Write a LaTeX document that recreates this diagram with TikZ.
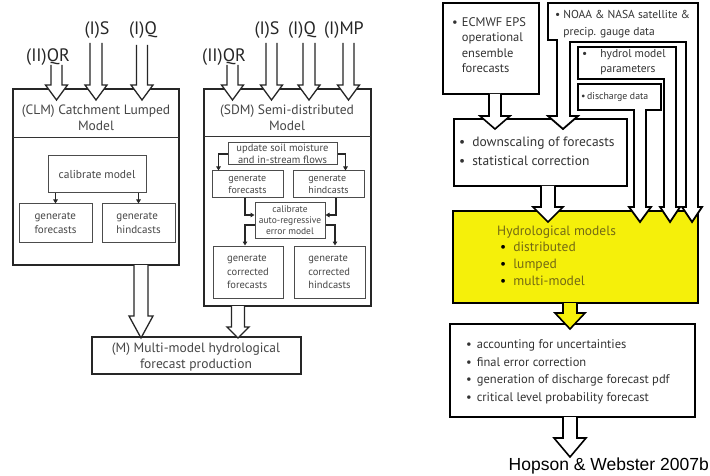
\documentclass[tikz,border=0pt]{standalone}
\usepackage{fontspec}
\setmainfont{PT Sans}
\newfontfamily\arialf{Liberation Sans}
\usetikzlibrary{arrows.meta}
\definecolor{ylw}{RGB}{245,240,10}
\definecolor{olv}{RGB}{115,105,20}
\definecolor{txg}{RGB}{70,70,70}
\newcommand{\blockarr}[7][]{\path[barr,#1] ({#2-#6},#3) -- ({#2-#6},#4) -- ({#2-#7},#4) -- (#2,#5) -- ({#2+#7},#4) -- ({#2+#6},#4) -- ({#2+#6},#3);}
\begin{document}
\begin{tikzpicture}[x=1pt,y=-1pt,
  lbl/.style={inner sep=0pt,text=black!85,font=\fontsize{18}{20}\selectfont},
  ttl/.style={inner sep=0pt,align=center,text=txg,font=\fontsize{13.5}{16}\selectfont},
  obox/.style={draw=black!85,line width=1.4pt,inner sep=0pt},
  ib/.style={draw=black!70,line width=1pt,inner sep=0pt,align=left,text=txg,font=\fontsize{11}{13.5}\selectfont},
  sib/.style={ib,font=\fontsize{10.5}{13}\selectfont},
  sarr/.style={draw=black!85,line width=1.1pt,-{Triangle[length=4pt,width=4.5pt]}},
  barr/.style={fill=white,draw=black!85,line width=1.3pt,line join=miter},
  rarr/.style={draw=black,line width=1.6pt},
  rbx/.style={draw=black,line width=1.8pt,inner sep=0pt},
  rtx/.style={inner sep=0pt,anchor=west,align=left,text=black!80},
  divl/.style={draw=black!80,line width=0.9pt}]
\useasboundingbox[fill=white] (0,0) rectangle (710,476);

% ---------------- Left: CLM ----------------
\node[obox,minimum width=166pt,minimum height=176pt] (clm) at (96,177) {};
\draw[divl] (13,137) -- (179,137);
\node[ttl] (clmt) at (96,118) {(CLM) Catchment Lumped\\Model};
\node[ib,minimum width=98pt,minimum height=37pt,font=\fontsize{11.5}{13.5}\selectfont] (cal) at (97,174.5) {calibrate model};
\node[ib,minimum width=73pt,minimum height=38pt] (gf) at (55.5,223) {generate\\forecasts};
\node[ib,minimum width=73pt,minimum height=38pt] (gh) at (138.5,223) {generate\\hindcasts};
\draw[sarr] (cal.south -| gf.north) -- (gf.north);
\draw[sarr] (cal.south -| gh.north) -- (gh.north);
\node[lbl] (l1) at (48,57) {(II)QR};
\node[lbl] (l2) at (97,30) {(I)S};
\node[lbl] (l3) at (143,30) {(I)Q};
\blockarr{56.5}{65}{85}{100}{5.5}{11}
\blockarr{96}{43}{85}{100}{6}{11}
\blockarr{142}{45}{85}{100}{5.5}{11}

% ---------------- Left: SDM ----------------
\node[obox,minimum width=167pt,minimum height=217pt] (sdm) at (287.5,197.5) {};
\draw[divl] (204,136) -- (371,136);
\node[ttl] (sdmt) at (287,118) {(SDM) Semi-distributed\\Model};
\node[sib,align=center,minimum width=109pt,minimum height=22pt,font=\fontsize{10.5}{11.5}\selectfont] (upd) at (282.5,154) {update soil moisture\\and in-stream flows};
\node[sib,minimum width=71pt,minimum height=27pt,font=\fontsize{10}{12}\selectfont] (gf2) at (247.5,184.5) {generate\\forecasts};
\node[sib,minimum width=71pt,minimum height=27pt,font=\fontsize{10}{12}\selectfont] (gh2) at (328.5,184.5) {generate\\hindcasts};
\node[sib,align=center,minimum width=70pt,minimum height=35pt,font=\fontsize{9.5}{11}\selectfont] (cal2) at (290,220.5) {calibrate\\auto-regressive\\error model};
\node[sib,minimum width=70pt,minimum height=52pt,font=\fontsize{10.5}{13.5}\selectfont] (cf) at (248,272) {generate\\corrected\\forecasts};
\node[sib,minimum width=71pt,minimum height=52pt,font=\fontsize{10.5}{13.5}\selectfont] (ch) at (329.5,272) {generate\\corrected\\hindcasts};
\draw[sarr] (upd.west) -| ([xshift=7pt]gf2.north west);
\draw[sarr] (upd.east) -| ([xshift=-19pt]gh2.north east);
\draw[sarr] ([xshift=-2.5pt]gf2.south) |- ([yshift=5.5pt]cal2.west);
\draw[sarr] ([xshift=7.5pt]gh2.south) |- ([yshift=5.5pt]cal2.east);
\draw[sarr] ([yshift=-4.5pt]cal2.west) -| ([xshift=-3pt]cf.north);
\draw[sarr] ([yshift=-4.5pt]cal2.east) -| ([xshift=5.5pt]ch.north);
\node[lbl] (s1) at (224,57) {(II)QR};
\node[lbl] (s2) at (267,30) {(I)S};
\node[lbl] (s3) at (302,30) {(I)Q};
\node[lbl] (s4) at (344,30) {(I)MP};
\blockarr{232.5}{65}{85}{100}{5.5}{11}
\blockarr{271.5}{43}{85}{100}{5.5}{11}
\blockarr{309}{43}{85}{100}{6}{11}
\blockarr{348.5}{43}{85}{100}{5.5}{11}

% ---------------- Left: M ----------------
\node[obox,minimum width=209pt,minimum height=37pt] (mm) at (196.5,355.5) {};
\node[ttl] (mmt) at (196,357) {(M) Multi-model hydrological\\forecast production};
\blockarr{141}{265}{316}{338}{7}{12}
\blockarr{238}{306}{327}{338}{6.5}{11}

% ---------------- Right ----------------
\node[rbx,fill=ylw,minimum width=245pt,minimum height=92pt] (hm) at (575.5,257) {};
\node[rbx,minimum width=173pt,minimum height=67pt] (ds) at (540.5,152.5) {};
\node[rbx,minimum width=96pt,minimum height=91pt] (ec) at (491,48.5) {};
% NOAA frame with two legs
\path[rbx,fill=white,line join=miter] (548,3) -- (698,3) -- (698,207) -- (702,207) -- (692,222) -- (682,207) -- (686,207) -- (686,42) -- (570,42) -- (570,116) -- (578,116) -- (563,129) -- (548,116) -- (557,116) -- (557,40) -- (548,40) -- cycle;
% hydrol model parameters with leg
\path[rbx,fill=white,line join=miter] (578,47) -- (676,47) -- (676,207) -- (680,207) -- (670,222) -- (660,207) -- (664,207) -- (664,79) -- (578,79) -- cycle;
% discharge data with leg
\path[rbx,fill=white,line join=miter] (578,84) -- (661,84) -- (661,110) -- (646,110) -- (646,207) -- (651,207) -- (640,222) -- (629,207) -- (634,207) -- (634,110) -- (578,110) -- cycle;

\blockarr[rarr]{495}{94}{116}{129}{6}{15}
\blockarr[rarr]{548}{186}{207}{222}{7}{15}
\node[rbx,minimum width=245pt,minimum height=93pt] (ac) at (572.5,370.5) {};
\blockarr[rarr,fill=ylw]{570}{303}{313}{329}{7}{15}
\blockarr[rarr]{570}{417}{438}{457}{7}{16}

\node[rtx,font=\fontsize{12.5}{15.5}\selectfont] (ect) at (452,46.5) {\begin{tabular}{@{}c@{\hspace{4pt}}l@{}}\textbullet & ECMWF EPS\\ & operational\\ & ensemble\\ & forecasts\end{tabular}};
\node[rtx,font=\fontsize{11.5}{17}\selectfont] (not) at (555,23.5) {\begin{tabular}{@{}c@{\hspace{3pt}}l@{}}\textbullet & NOAA \& NASA satellite \&\\ & precip. gauge data\end{tabular}};
\node[rtx,font=\fontsize{11.5}{15}\selectfont] (hyt) at (582,62.5) {\begin{tabular}{@{}c@{\hspace{13pt}}l@{}}\textbullet & hydrol model\\ & parameters\end{tabular}};
\node[rtx,font=\fontsize{9.8}{12}\selectfont] (dct) at (581,97) {\textbullet\hspace{1.5pt}discharge data};
\node[rtx,font=\fontsize{13.5}{19}\selectfont] (dst) at (459,152.5) {\begin{tabular}{@{}c@{\hspace{7pt}}l@{}}\textbullet & downscaling of forecasts\\ \textbullet & statistical correction\end{tabular}};
\node[rtx,font=\fontsize{13.5}{17}\selectfont,text=olv] (hmt) at (497,258.5) {Hydrological models\\[0pt]\begin{tabular}{@{\hspace{3pt}}c@{\hspace{7pt}}l@{}}\textcolor{black}{\textbullet} & distributed\\ \textcolor{black}{\textbullet} & lumped\\ \textcolor{black}{\textbullet} & multi-model\end{tabular}};
\node[rtx,font=\fontsize{12.5}{17.7}\selectfont] (act) at (466,371.5) {\begin{tabular}{@{}c@{\hspace{5pt}}l@{}}\textbullet & accounting for uncertainties\\ \textbullet & final error correction\\ \textbullet & generation of discharge forecast pdf\\ \textbullet & critical level probability forecast\end{tabular}};
\node[inner sep=0pt,anchor=east,font=\arialf\fontsize{17.5}{20}\selectfont] (cite) at (709,466) {Hopson \& Webster 2007b};
\end{tikzpicture}
\end{document}
